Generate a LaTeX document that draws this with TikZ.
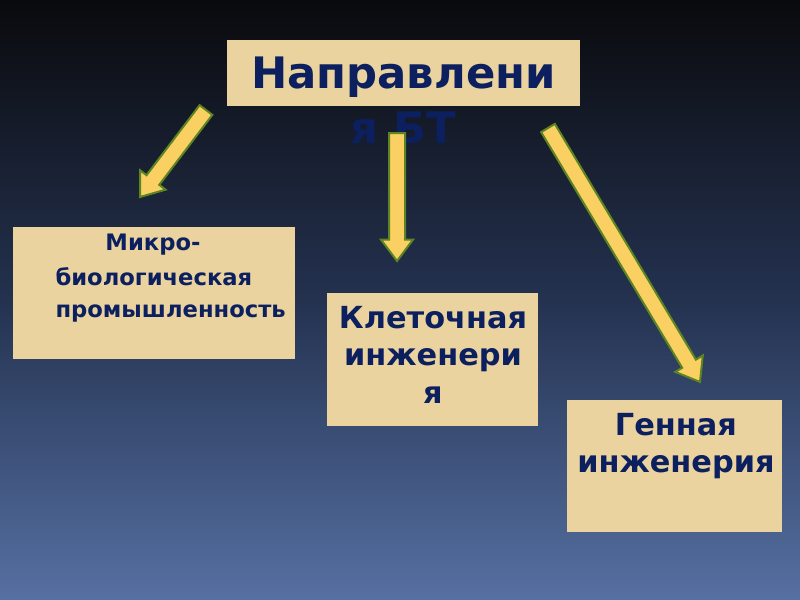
\documentclass[tikz,border=0pt]{standalone}
\usepackage{fontspec}
\setmainfont{DejaVu Sans}
\usetikzlibrary{calc}

\definecolor{bgtop}{RGB}{10,10,13}
\definecolor{bgmid}{RGB}{36,50,80}
\definecolor{bgbot}{RGB}{86,112,162}
\definecolor{papyrus}{RGB}{234,211,158}
\definecolor{inkblue}{RGB}{12,32,96}
\definecolor{arrowfill}{RGB}{250,208,98}
\definecolor{arrowline}{RGB}{92,132,34}

\tikzset{every picture/.style={line width=0.75pt}}
\tikzset{
	paper/.style={fill=papyrus, inner sep=0pt},
	txt/.style={text=inkblue, font=\bfseries, anchor=base, inner sep=0pt},
	fatarrow/.style={fill=arrowfill, draw=arrowline, line width=1.5pt, line join=miter}
}
% block arrow from #1 to #2
\newcommand{\fatarrow}[2]{%
	\coordinate (hb) at ($(#2)!16pt!(#1)$);
	\draw[fatarrow] ($(#1)!6pt!90:(#2)$) -- ($(hb)!6pt!90:(#2)$) -- ($(hb)!12pt!90:(#2)$)
		-- (#2) -- ($(hb)!12pt!-90:(#2)$) -- ($(hb)!6pt!-90:(#2)$) -- ($(#1)!6pt!-90:(#2)$) -- cycle;
}

\begin{document}
\begin{tikzpicture}[x=0.75pt,y=-0.75pt]
	%Nen
	\useasboundingbox (0,0) rectangle (800,600);
	\shade[top color=bgtop, bottom color=bgbot, middle color=bgmid] (0,0) rectangle (800,600);
	%Khung tieu de
	\node[paper, minimum width=264.75pt, minimum height=49.5pt] (title) at (403.5,73) {};
	\node[txt, font=\bfseries\fontsize{32.5}{38}\selectfont] (title1) at (403.5,88) {Направлени};
	\node[txt, font=\bfseries\fontsize{32.5}{38}\selectfont] (title2) at (403.5,143) {я БТ};
	%Khung 1
	\node[paper, minimum width=211.5pt, minimum height=99pt] (micro) at (154,293) {};
	\node[txt, font=\bfseries\fontsize{17}{20}\selectfont] (micro1) at (153,250) {Микро-};
	\node[txt, font=\bfseries\fontsize{17}{20}\selectfont, anchor=base west] (micro2) at (55,285) {биологическая};
	\node[txt, font=\bfseries\fontsize{17}{20}\selectfont, anchor=base west] (micro3) at (55,317) {промышленность};
	%Khung 2
	\node[paper, minimum width=158.25pt, minimum height=99.75pt] (cell) at (432.5,359.5) {};
	\node[txt, font=\bfseries\fontsize{22.8}{28}\selectfont] (cell1) at (433,328) {Клеточная};
	\node[txt, font=\bfseries\fontsize{22.8}{28}\selectfont] (cell2) at (433,365) {инженери};
	\node[txt, font=\bfseries\fontsize{22.8}{28}\selectfont] (cell3) at (433,403) {я};
	%Khung 3
	\node[paper, minimum width=161.25pt, minimum height=99pt] (gene) at (674.5,466) {};
	\node[txt, font=\bfseries\fontsize{22.8}{28}\selectfont] (gene1) at (676,435) {Генная};
	\node[txt, font=\bfseries\fontsize{22.8}{28}\selectfont] (gene2) at (676,472) {инженерия};
	%Mui ten
	\coordinate (tailA) at (206,110);
	\coordinate (tipA) at (140,197);
	\coordinate (tailB) at (397,133);
	\coordinate (tipB) at (397,261);
	\coordinate (tailC) at (548,128);
	\coordinate (tipC) at (700,382);
	\fatarrow{tailA}{tipA}
	\fatarrow{tailB}{tipB}
	\fatarrow{tailC}{tipC}
\end{tikzpicture}
\end{document}
